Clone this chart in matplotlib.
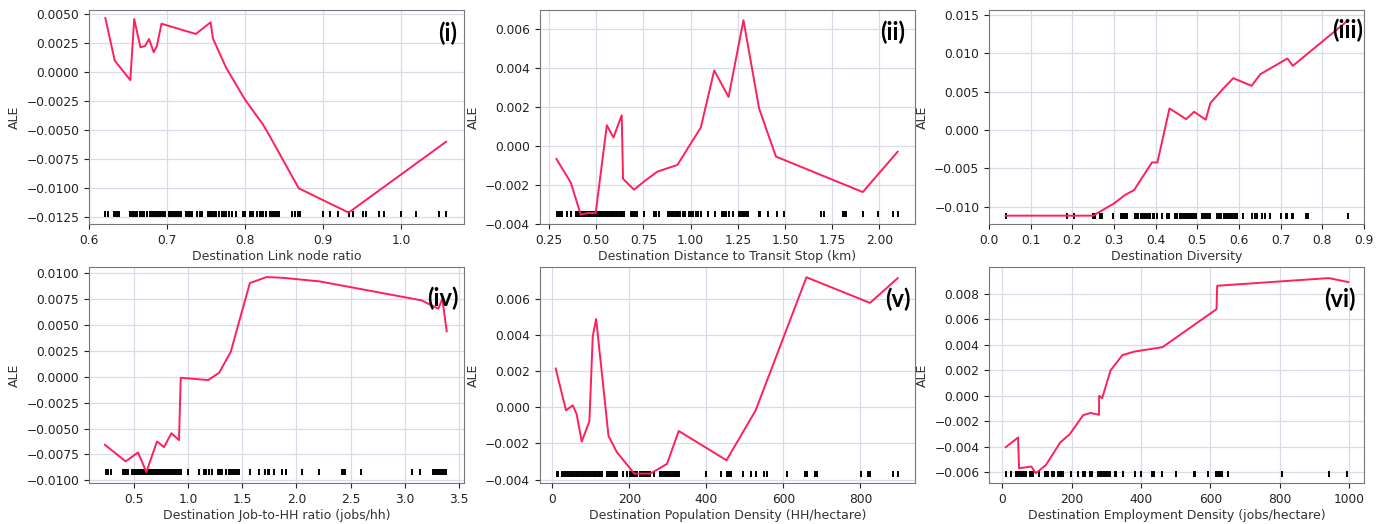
import numpy as np
import matplotlib.pyplot as plt

# (i) Destination Link node ratio
x1 = [0.621, 0.633, 0.653, 0.658, 0.666, 0.672, 0.677, 0.683, 0.687, 0.693, 0.737, 0.756, 0.759,
      0.776, 0.800, 0.823, 0.830, 0.869, 0.933, 1.058]
y1 = [0.00463, 0.00097, -0.00071, 0.00454, 0.00211, 0.00223, 0.00283, 0.00169, 0.0022, 0.00414,
      0.00326, 0.00426, 0.00286, 0.00034, -0.00237, -0.00451, -0.0053, -0.0100, -0.01209, -0.0060]
rug1 = [0.621, 0.625, 0.632, 0.635, 0.637, 0.639, 0.653, 0.655, 0.658, 0.660, 0.662, 0.665, 0.667,
        0.669, 0.671, 0.674, 0.675, 0.678, 0.680, 0.682, 0.684, 0.686, 0.688, 0.691, 0.693, 0.695,
        0.697, 0.703, 0.704, 0.707, 0.709, 0.711, 0.714, 0.716, 0.718, 0.725, 0.727, 0.730, 0.732,
        0.738, 0.742, 0.745, 0.753, 0.754, 0.756, 0.757, 0.759, 0.761, 0.763, 0.767, 0.770, 0.773,
        0.776, 0.780, 0.783, 0.789, 0.797, 0.800, 0.806, 0.808, 0.810, 0.815, 0.819, 0.821, 0.823,
        0.827, 0.832, 0.835, 0.837, 0.840, 0.842, 0.844, 0.861, 0.864, 0.868, 0.870, 0.900, 0.909,
        0.919, 0.934, 0.939, 0.951, 0.955, 0.972, 0.978, 1.000, 1.020, 1.049, 1.058]

# (ii) Destination Distance to Transit Stop
x2 = [0.289, 0.365, 0.418, 0.453, 0.497, 0.556, 0.591, 0.635, 0.642, 0.700, 0.753, 0.824, 0.930,
      1.054, 1.125, 1.201, 1.280, 1.363, 1.452, 1.912, 2.097]
y2 = [-0.00066, -0.00187, -0.00352, -0.00344, -0.00344, 0.00107, 0.00044, 0.00158, -0.00168,
      -0.00224, -0.00182, -0.00131, -0.00097, 0.00095, 0.00388, 0.00252, 0.00646, 0.00192,
      -0.00054, -0.00236, -0.00029]
rug2 = [0.294, 0.303, 0.312, 0.321, 0.347, 0.365, 0.391, 0.400, 0.409, 0.418, 0.427, 0.436, 0.444,
        0.453, 0.462, 0.471, 0.480, 0.489, 0.497, 0.506, 0.515, 0.524, 0.533, 0.542, 0.551, 0.559,
        0.568, 0.577, 0.586, 0.595, 0.604, 0.612, 0.621, 0.630, 0.639, 0.648, 0.683, 0.688, 0.697,
        0.704, 0.715, 0.754, 0.807, 0.816, 0.833, 0.881, 0.890, 0.899, 0.908, 0.916, 0.927, 0.934,
        0.943, 0.962, 0.969, 0.989, 1.001, 1.014, 1.028, 1.040, 1.054, 1.090, 1.129, 1.164, 1.175,
        1.190, 1.205, 1.222, 1.258, 1.266, 1.275, 1.284, 1.293, 1.302, 1.364, 1.369, 1.411, 1.457,
        1.496, 1.691, 1.708, 1.806, 1.814, 1.823, 1.912, 1.995, 2.071, 2.097]

# (iii) Destination Diversity
x3 = [0.040, 0.250, 0.270, 0.300, 0.326, 0.348, 0.391, 0.404, 0.433, 0.473, 0.492, 0.520, 0.531,
      0.563, 0.586, 0.630, 0.651, 0.716, 0.729, 0.862]
y3 = [-0.01117, -0.01117, -0.01052, -0.00957, -0.00848, -0.00783, -0.00422, -0.00422, 0.00283,
      0.00143, 0.00239, 0.00135, 0.00352, 0.00548, 0.00678, 0.00578, 0.00730, 0.00935, 0.00839,
      0.01435]
rug3 = [0.040, 0.187, 0.204, 0.250, 0.254, 0.266, 0.270, 0.298, 0.316, 0.318, 0.322, 0.326, 0.332,
        0.350, 0.354, 0.358, 0.364, 0.369, 0.374, 0.378, 0.383, 0.387, 0.393, 0.396, 0.403, 0.415,
        0.428, 0.433, 0.447, 0.452, 0.459, 0.463, 0.467, 0.471, 0.475, 0.479, 0.483, 0.487, 0.492,
        0.496, 0.511, 0.515, 0.519, 0.523, 0.527, 0.531, 0.547, 0.551, 0.557, 0.563, 0.567, 0.571,
        0.575, 0.579, 0.583, 0.587, 0.591, 0.595, 0.610, 0.630, 0.637, 0.643, 0.655, 0.661, 0.674,
        0.700, 0.712, 0.716, 0.726, 0.730, 0.760, 0.765, 0.862]

# (iv) Destination Job-to-HH ratio
x4 = [0.235, 0.426, 0.540, 0.617, 0.715, 0.780, 0.848, 0.918, 0.934, 1.186, 1.288, 1.395, 1.571,
      1.725, 1.878, 2.217, 3.155, 3.309, 3.346, 3.386]
y4 = [-0.00657, -0.00817, -0.00731, -0.0092, -0.00625, -0.0068, -0.00545, -0.00612, -0.0001,
      -0.00032, 0.00038, 0.0024, 0.00904, 0.00962, 0.00955, 0.0092, 0.00737, 0.00657, 0.00753,
      0.00439]
rug4 = [0.242, 0.263, 0.294, 0.402, 0.417, 0.432, 0.448, 0.488, 0.500, 0.515, 0.531, 0.549, 0.565,
        0.580, 0.592, 0.608, 0.623, 0.638, 0.654, 0.669, 0.685, 0.709, 0.725, 0.740, 0.755, 0.771,
        0.786, 0.802, 0.817, 0.832, 0.848, 0.863, 0.878, 0.894, 0.909, 0.925, 0.940, 1.002, 1.100,
        1.146, 1.171, 1.195, 1.220, 1.278, 1.300, 1.318, 1.355, 1.377, 1.392, 1.408, 1.423, 1.438,
        1.457, 1.472, 1.571, 1.657, 1.715, 1.734, 1.749, 1.792, 1.869, 1.909, 2.048, 2.208, 2.417,
        2.432, 2.448, 2.592, 3.063, 3.140, 3.257, 3.272, 3.288, 3.303, 3.318, 3.334, 3.349, 3.365,
        3.380]

# (v) Destination Population Density
x5 = [8.7, 35.6, 53, 63.4, 76.4, 96.4, 105, 113.8, 146, 167.6, 212.8, 254.5, 297.9, 328.3, 452.4,
      528, 660, 825, 897]
y5 = [0.00215, -0.00017, 0.00011, -0.00039, -0.0019, -0.00076, 0.00393, 0.00489, -0.00159,
      -0.00248, -0.00367, -0.00367, -0.00313, -0.00131, -0.00293, -0.00017, 0.0072, 0.00578,
      0.00715]
rug5 = [11, 16, 24, 29, 33, 37, 42, 46, 50, 55, 59, 63, 68, 72, 76, 81, 85, 89, 94, 98, 102, 107,
        111, 116, 120, 124, 129, 142, 146, 150, 155, 161, 166, 169, 183, 195, 201, 204, 209, 213,
        218, 221, 227, 230, 235, 239, 244, 248, 253, 263, 279, 283, 287, 292, 296, 300, 305, 311,
        315, 320, 324, 328, 398, 437, 454, 459, 463, 496, 515, 528, 551, 557, 609, 657, 661, 682,
        687, 802, 821, 825, 884, 897]

# (vi) Destination Employment Density
x6 = [9.6, 45.2, 48, 83.7, 96.2, 125, 167.5, 194.4, 233, 254, 279, 279.1, 288, 312, 346.5, 382,
      462, 618, 620, 942, 998]
y6 = [-0.00403, -0.00327, -0.00568, -0.00555, -0.00607, -0.00545, -0.00364, -0.00301, -0.00152,
      -0.00134, -0.00149, 0.0, -0.00018, 0.00199, 0.0032, 0.00348, 0.00382, 0.0068, 0.00864,
      0.00924, 0.00893]
rug6 = [10, 26, 40, 45, 50, 55, 60, 64, 69, 81, 84, 87, 106, 122, 127, 132, 144, 148, 161, 166,
        170, 175, 199, 218, 233, 238, 254, 260, 276, 281, 286, 291, 295, 300, 305, 310, 324, 329,
        348, 382, 401, 433, 437, 462, 500, 552, 555, 594, 616, 621, 626, 629, 635, 652, 808, 942,
        995]

xs = [x1, x2, x3, x4, x5, x6]
ys = [y1, y2, y3, y4, y5, y6]
rugs = [rug1, rug2, rug3, rug4, rug5, rug6]
rug_y = [-0.0122, -0.00349, -0.01117, -0.0092, -0.00367, -0.00613]
xlabels = ['Destination Link node ratio',
           'Destination Distance to Transit Stop (km)',
           'Destination Diversity',
           'Destination Job-to-HH ratio (jobs/hh)',
           'Destination Population Density (HH/hectare)',
           'Destination Employment Density (jobs/hectare)']
tags = ['(i)', '(ii)', '(iii)', '(iv)', '(v)', '(vi)']
tag_pos = [(0.955, 0.89), (0.94, 0.896), (0.955, 0.906), (0.944, 0.854), (0.955, 0.853), (0.935, 0.853)]
xlims = [(0.6, 1.081), (0.202, 2.189), (0.0, 0.9), (0.088, 3.546), (-32, 942), (-38.5, 1044)]
ylims = [(-0.01307, 0.0053), (-0.004, 0.00697), (-0.01226, 0.01565), (-0.01026, 0.01058),
         (-0.00419, 0.00776), (-0.00684, 0.0101)]
yticks = [np.arange(-0.0125, 0.0051, 0.0025), np.arange(-0.004, 0.0061, 0.002),
          np.arange(-0.010, 0.0151, 0.005), np.arange(-0.0100, 0.0101, 0.0025),
          np.arange(-0.004, 0.0061, 0.002), np.arange(-0.006, 0.0081, 0.002)]
yfmt = ['%.4f', '%.3f', '%.3f', '%.4f', '%.3f', '%.3f']

fig = plt.figure(figsize=(13.86, 5.24), dpi=100)
lefts = [0.0642, 0.3896, 0.7136]
bottoms = [0.5725, 0.0782]
heights = [0.408, 0.412]

for i in range(6):
    r, c = divmod(i, 3)
    ax = fig.add_axes([lefts[c], bottoms[r], 0.2706, heights[r]])
    ax.set_axisbelow(True)
    ax.grid(True, color='#d8dbe8', lw=0.9)
    ax.plot(xs[i], ys[i], color='#ff1f5b', lw=1.4, zorder=3)
    ax.plot(rugs[i], [rug_y[i]] * len(rugs[i]), '|', color='k', ms=5, mew=1.4, zorder=2)
    ax.set_xlim(xlims[i])
    ax.set_ylim(ylims[i])
    ax.set_yticks(yticks[i])
    ax.set_yticklabels([(yfmt[i] % v).replace('-', '\u2212') if abs(v) > 1e-9 else yfmt[i] % 0 for v in yticks[i]])
    ax.tick_params(labelsize=8.8, colors='#222222')
    ax.set_xlabel(xlabels[i], fontsize=9, color='#333333', labelpad=2)
    ax.set_ylabel('ALE', fontsize=9, color='#333333')
    for s in ax.spines.values():
        s.set_color('#777777')
    ax.text(tag_pos[i][0], tag_pos[i][1], tags[i], transform=ax.transAxes, ha='center', va='center',
            fontsize=17, fontweight='bold', family='Lato', zorder=4)

fig.savefig('out.png', dpi=100)
